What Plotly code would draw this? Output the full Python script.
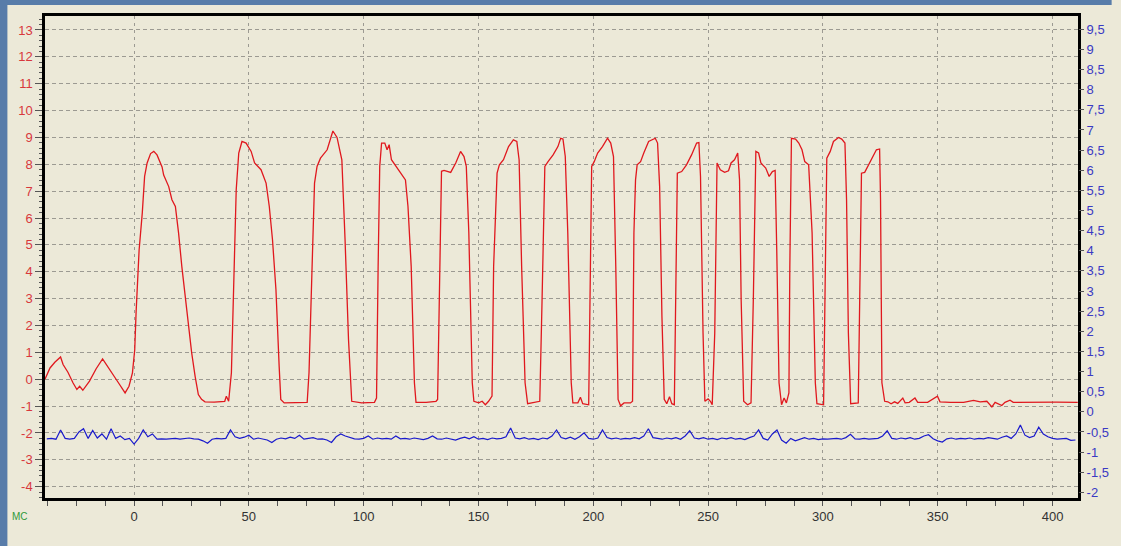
import plotly.graph_objects as go

# ---------------- data ----------------
red_x = [-38.8, -36.6, -34.5, -32.0, -30.9, -28.8, -26.6, -24.9, -23.7, -22.3, -19.4, -16.5, -13.7, -12.0, -9.4,
         -6.8, -3.9, -2.2, -0.7, 0.3, 0.9,
         2.2, 3.6, 4.6, 5.7, 7.2, 8.6, 10.0, 12.2, 12.9, 15.1, 16.5, 18.0, 19.4, 20.8, 22.3, 23.7, 25.1, 26.6,
         28.0, 29.4, 30.9, 34.9, 39.5, 40.2, 41.2, 42.4,
         43.5, 44.5, 45.6, 47.0, 48.8, 51.0, 52.5, 55.3, 57.5, 58.9, 60.3, 61.8, 63.2, 63.9, 65.4, 70.3, 75.4, 76.2,
         77.6, 78.6, 79.7, 81.2, 84.1, 86.6, 88.4, 90.5, 91.9, 93.4, 94.8, 99.1, 104.7, 105.6,
         106.3, 107.0, 107.8, 109.2, 110.2, 111.1, 112.1, 114.2, 117.1, 118.2, 119.3, 120.7, 122.1, 122.8, 127.2,
         131.5, 132.2,
         132.9, 133.9, 135.0, 137.9, 140.1, 142.2, 143.7, 144.7, 145.8, 147.3, 148.0, 150.1, 151.6, 153.0, 154.4,
         155.9,
         156.6, 158.1, 159.1, 160.9, 163.1, 165.2, 166.7, 167.7, 168.8, 170.3, 171.4, 174.6, 176.7,
         177.7, 178.9, 180.3, 182.5, 184.6, 185.8, 186.8, 187.8, 188.9, 190.4, 191.1, 193.3, 194.4, 195.4, 198.0,
         198.7, 199.3, 200.4, 201.9, 204.0, 206.2, 207.6, 208.8, 209.8, 210.8, 211.9, 213.4, 216.2, 217.1,
         217.7, 218.4, 219.1, 220.6, 222.0, 224.1, 227.0, 228.0, 228.9, 229.9, 230.9, 232.0, 233.2, 234.2, 235.3,
         235.9, 236.6, 238.5, 240.6, 242.8, 245.0, 246.0, 246.7, 247.8, 248.6, 250.0, 251.0, 251.8,
         252.9, 253.9, 255.3, 257.2, 258.9, 260.0, 261.5, 262.9, 263.7, 264.4, 265.5, 267.2, 268.7,
         269.7, 270.8, 272.0, 273.0, 275.1, 276.6, 278.0, 279.2, 279.9, 280.9, 282.0, 283.1, 284.1, 285.2,
         285.6, 286.3, 288.1, 289.5, 290.9, 292.1, 293.8, 295.3, 296.7, 297.4, 300.3,
         301.0, 301.7, 303.2, 304.6, 306.8, 308.2, 309.6, 310.3, 311.1, 312.1, 315.4,
         316.1, 316.8, 318.2, 320.0, 321.1, 323.3, 324.7, 325.1, 325.7, 326.9,
         328.3, 329.7, 331.2, 332.6, 334.8, 335.8, 337.6, 340.1, 341.3, 345.6, 349.9, 351.0, 355.6, 361.3, 365.6,
         368.5, 371.4, 373.6, 375.0, 377.9, 379.3, 381.5, 382.9, 388.7, 394.4, 401.6, 411.0]

red_y = [0.0, 0.42, 0.63, 0.83, 0.55, 0.26, -0.13, -0.38, -0.26, -0.41, -0.07, 0.39, 0.76, 0.55, 0.24,
         -0.13, -0.51, -0.26, 0.24, 1.1, 2.5,
         4.8, 6.2, 7.55, 8.05, 8.4, 8.48, 8.35, 7.9, 7.6, 7.17, 6.68, 6.43, 5.44, 4.2, 3.09, 1.97, 0.98, 0.11,
         -0.57, -0.75, -0.84, -0.85, -0.82, -0.63, -0.82, 0.24,
         3.96, 7.05, 8.42, 8.85, 8.79, 8.48, 8.05, 7.8, 7.3, 6.43, 5.19, 3.33, 0.48, -0.75, -0.88, -0.86, -0.86, 0.24,
         4.57, 7.3, 7.92, 8.23, 8.54, 9.24, 9.0, 8.17, 5.19, 1.48, -0.82, -0.88, -0.86, -0.7,
         4.2, 7.92, 8.79, 8.79, 8.54, 8.73, 8.17, 7.92, 7.55, 7.42, 6.43, 4.2, -0.13, -0.86, -0.86,
         -0.82, -0.75,
         2.96, 7.74, 7.77, 7.7, 8.05, 8.48, 8.29, 7.92, 5.44, -0.13, -0.82, -0.88, -0.82, -0.95, -0.82,
         -0.63,
         4.2, 7.67, 7.98, 8.17, 8.66, 8.91, 8.85, 8.17, 4.2, -0.13, -0.91, -0.86, -0.82,
         2.96, 7.92, 8.1, 8.35, 8.66, 8.97, 8.94, 8.29, 5.44, -0.13, -0.88, -0.88, -0.67, -0.91, -0.95,
         2.96, 7.92, 8.1, 8.42, 8.66, 8.97, 8.79, 8.29, 4.2, -0.75, -0.99, -0.88, -0.88, -0.82,
         5.44, 7.42, 7.98, 8.1, 8.42, 8.85, 8.97, 8.79, 7.17, 2.34, -0.75, -0.91, -0.65, -0.91, -0.95,
         2.34, 7.67, 7.73, 7.98, 8.35, 8.79, 8.81, 7.55, 1.72, -0.82, -0.73, -0.82, -0.95,
         1.72, 8.05, 7.8, 7.7, 7.76, 8.05, 8.17, 8.42, 7.42, 2.96, -0.82, -0.95, -0.88,
         2.96, 8.48, 8.42, 8.05, 7.86, 7.55, 7.73, 7.77, 4.83, -0.13, -0.95, -0.7, -0.88, -0.51,
         4.2, 8.97, 8.94, 8.79, 8.54, 8.1, 7.98, 5.44, -0.13, -0.91, -0.95,
         2.96, 8.23, 8.48, 8.85, 9.0, 8.94, 8.79, 6.68, 1.72, -0.91, -0.88,
         4.2, 7.67, 7.7, 7.98, 8.17, 8.54, 8.57, 6.68, -0.13, -0.82,
         -0.84, -0.91, -0.84, -0.9, -0.7, -0.88, -0.86, -0.7, -0.86, -0.86, -0.63, -0.84, -0.86, -0.86, -0.79,
         -0.84, -0.82, -1.03, -0.86, -0.98, -0.86, -0.78, -0.86, -0.85, -0.86, -0.85, -0.86]

blue_x = list(range(-38, 411, 2))
blue_y = [
    -0.67, -0.66, -0.68, -0.45, -0.66, -0.68, -0.66, -0.50, -0.42, -0.66,
    -0.46, -0.65, -0.55, -0.68, -0.42, -0.66, -0.60, -0.69, -0.66, -0.80,
    -0.66, -0.45, -0.62, -0.55, -0.68, -0.67, -0.68, -0.67, -0.66, -0.68,
    -0.67, -0.65, -0.67, -0.68, -0.72, -0.78, -0.68, -0.66, -0.67, -0.66,
    -0.45, -0.62, -0.66, -0.63, -0.58, -0.68, -0.65, -0.67, -0.70, -0.76,
    -0.68, -0.65, -0.67, -0.63, -0.66, -0.58, -0.68, -0.66, -0.64, -0.68,
    -0.67, -0.70, -0.76, -0.62, -0.55, -0.60, -0.64, -0.67, -0.68, -0.66,
    -0.60, -0.68, -0.65, -0.67, -0.66, -0.68, -0.60, -0.67, -0.66, -0.68,
    -0.65, -0.67, -0.69, -0.66, -0.60, -0.67, -0.68, -0.65, -0.67, -0.70,
    -0.66, -0.63, -0.67, -0.62, -0.68, -0.66, -0.69, -0.65, -0.67, -0.66,
    -0.62, -0.40, -0.65, -0.67, -0.64, -0.68, -0.66, -0.69, -0.65, -0.67,
    -0.60, -0.45, -0.64, -0.67, -0.63, -0.68, -0.62, -0.52, -0.66, -0.68,
    -0.65, -0.45, -0.64, -0.67, -0.65, -0.68, -0.66, -0.67, -0.64, -0.67,
    -0.60, -0.42, -0.64, -0.66, -0.68, -0.65, -0.67, -0.64, -0.68, -0.60,
    -0.47, -0.65, -0.67, -0.64, -0.68, -0.66, -0.69, -0.65, -0.67, -0.64,
    -0.68, -0.66, -0.69, -0.64, -0.60, -0.45, -0.66, -0.70, -0.55, -0.45,
    -0.70, -0.78, -0.66, -0.72, -0.67, -0.64, -0.68, -0.66, -0.69, -0.67,
    -0.68, -0.67, -0.66, -0.68, -0.64, -0.56, -0.67, -0.68, -0.66, -0.68,
    -0.67, -0.66, -0.60, -0.47, -0.66, -0.68, -0.65, -0.67, -0.64, -0.68,
    -0.66, -0.60, -0.57, -0.67, -0.72, -0.75, -0.67, -0.65, -0.68, -0.66,
    -0.67, -0.65, -0.68, -0.66, -0.67, -0.64, -0.66, -0.68, -0.63, -0.60,
    -0.66, -0.55, -0.33, -0.58, -0.64, -0.60, -0.38, -0.55, -0.62, -0.66,
    -0.68, -0.67, -0.66, -0.71, -0.70]

left_tickvals = list(range(-4, 14))
left_ticktext = [str(v) for v in left_tickvals]
right_tickvals = [-2, -1.5, -1, -0.5, 0, 0.5, 1, 1.5, 2, 2.5, 3, 3.5, 4, 4.5, 5, 5.5, 6, 6.5, 7, 7.5, 8, 8.5, 9, 9.5]
right_ticktext = ["-2", "-1,5", "-1", "-0,5", "0", "0,5", "1", "1,5", "2", "2,5", "3", "3,5", "4", "4,5",
                  "5", "5,5", "6", "6,5", "7", "7,5", "8", "8,5", "9", "9,5"]
x_tickvals = [0, 50, 100, 150, 200, 250, 300, 350, 400]
x_ticktext = [str(v) for v in x_tickvals]
unit_label = "MC"

# ---------------- layout constants ----------------
W, H = 1121, 546
L, R, T, B = 45, 32, 16, 48
pw, ph = W - L - R, H - T - B
BEIGE = "#ece9d8"
FRAME_BLUE = "#587ca9"
FONT = "Liberation Sans"
GRID = "#9c9a92"

fig = go.Figure()
fig.add_trace(go.Scatter(x=red_x, y=red_y, mode="lines",
                         line=dict(color="#e0181e", width=1.3), yaxis="y", hoverinfo="skip"))
fig.add_trace(go.Scatter(x=blue_x, y=blue_y, mode="lines",
                         line=dict(color="#1a1acc", width=1.2), yaxis="y2", hoverinfo="skip"))

def px_x(p):
    return (p - L) / pw

def px_y(p):
    return (H - B - p) / ph

# blue window frame: left strip and top strip
fig.add_shape(type="rect", xref="paper", yref="paper",
              x0=px_x(-2), x1=px_x(7), y0=px_y(H + 2), y1=px_y(-2),
              fillcolor=FRAME_BLUE, line=dict(width=0), layer="below")
fig.add_shape(type="rect", xref="paper", yref="paper",
              x0=px_x(-2), x1=px_x(W + 2), y0=px_y(5), y1=px_y(-2),
              fillcolor=FRAME_BLUE, line=dict(width=0), layer="below")

fig.update_layout(
    width=W, height=H, autosize=False,
    margin=dict(l=L, r=R, t=T, b=B, pad=0),
    paper_bgcolor=BEIGE,
    plot_bgcolor=BEIGE,
    showlegend=False,
    font=dict(family=FONT, size=13),
    xaxis=dict(range=[-38.78, 411.1], tickmode="array", tickvals=x_tickvals, ticktext=x_ticktext,
               ticks="outside", ticklen=5, tickwidth=1, tickcolor="#555555",
               tickfont=dict(color="#333333", size=13, family=FONT),
               showgrid=True, gridcolor=GRID, griddash="3px,4px", gridwidth=1,
               showline=True, linecolor="black", linewidth=2.5, mirror=True,
               zeroline=False,
               minor=dict(tickmode="linear", tick0=0, dtick=12.5, ticks="outside", ticklen=5,
                          tickcolor="#555555", showgrid=False)),
    yaxis=dict(range=[-4.42, 13.52], tickmode="array", tickvals=left_tickvals, ticktext=left_ticktext,
               ticks="outside", ticklen=7, tickwidth=1, tickcolor="#555555",
               tickfont=dict(color="#d8383c", size=13, family=FONT),
               showgrid=True, gridcolor=GRID, griddash="4px,3px", gridwidth=1,
               showline=True, linecolor="black", linewidth=2.5, mirror=True,
               zeroline=False,
               minor=dict(tickmode="linear", tick0=0, dtick=0.2, ticks="outside", ticklen=3,
                          tickcolor="#555555", showgrid=False)),
    yaxis2=dict(range=[-2.14, 9.83], overlaying="y", side="right", anchor="x",
                tickmode="array", tickvals=right_tickvals, ticktext=right_ticktext,
                ticks="outside", ticklen=5, tickwidth=1, tickcolor="#555555",
                tickfont=dict(color="#3a3ac4", size=13, family=FONT),
                showgrid=False, zeroline=False, showline=False),
    annotations=[dict(text=unit_label, xref="paper", yref="paper", x=px_x(20), y=px_y(516),
                      xanchor="center", yanchor="middle", showarrow=False,
                      font=dict(color="#2f9a3a", size=10, family=FONT))],
)

fig.write_html("out.html")
